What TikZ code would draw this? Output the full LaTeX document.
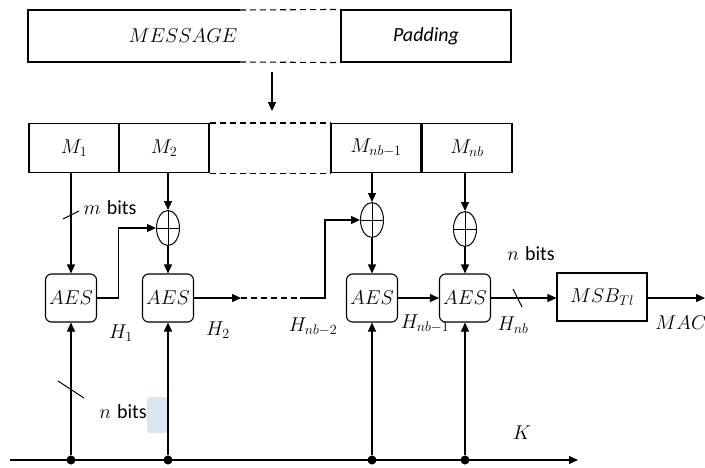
\documentclass[tikz,border=0pt]{standalone}
\usepackage{fontspec}
\usepackage{fix-cm}
\newfontfamily\calibri{Carlito}
\usetikzlibrary{arrows.meta,shapes.geometric}
\definecolor{hl}{HTML}{DCE6F2}
\begin{document}
\begin{tikzpicture}[x=1pt,y=-1pt,
  every node/.style={font=\fontsize{20}{24}\selectfont},
  blk/.style={draw,line width=1.1pt,minimum width=90pt,minimum height=49pt,inner sep=0pt},
  aes/.style={draw,line width=1.1pt,rounded corners=6pt,minimum width=51pt,minimum height=48pt,inner sep=0pt},
  xor/.style={draw,ellipse,line width=1pt,minimum width=23pt,minimum height=35pt,inner sep=0pt,
    path picture={\draw[line width=1pt] (path picture bounding box.north)--(path picture bounding box.south)
      (path picture bounding box.west)--(path picture bounding box.east);}},
  wire/.style={line width=1.1pt},
  arr/.style={wire,-{Triangle[length=9pt,width=8pt]}},
  dashline/.style={line width=1.1pt,dash pattern=on 6pt off 4pt},
  dot/.style={circle,fill,inner sep=0pt,minimum size=9pt},
  slash/.style={line width=1pt}
]
\useasboundingbox (0,0) rectangle (705,467);
% highlight
\fill[hl,rounded corners=3pt] (147,397) rectangle (168,433);
% message
\node (msg) at (183,36) {$MESSAGE$};
\node[draw,line width=1.1pt,minimum width=170pt,minimum height=52pt,inner sep=0pt] (pad) at (426,36) {\raisebox{3pt}{\calibri\itshape Padding}};
\coordinate (mA) at (240,10);
\coordinate (mB) at (240,62);
\coordinate (mTL) at (28,10);
\coordinate (mBL) at (28,62);
\draw[wire] (mA) -- (mTL) -- (mBL) -- (mB);
\draw[dashline] (mA) -- (pad.north west);
\draw[dashline] (mB) -- (pad.south west);
\coordinate (a0) at (272,72);
\coordinate (a1) at (272,111);
\draw[arr] (a0) -- (a1);
% blocks
\node[blk] (m1) at (74,148) {$M_1$};
\node[blk] (m2) at (164,148) {$M_2$};
\node[blk] (m3) at (376,148) {$M_{nb-1}$};
\node[blk] (m4) at (467,148) {$M_{nb}$};
\draw[dashline] (m2.north east) -- (m3.north west);
\draw[dashline] (m2.south east) -- (m3.south west);
% AES
\node[aes] (aes1) at (71,298) {$AES$};
\node[aes] (aes2) at (168,298) {$AES$};
\node[aes] (aes3) at (372,298) {$AES$};
\node[aes] (aes4) at (465,298) {$AES$};
\node[draw,line width=1.1pt,minimum width=90pt,minimum height=48pt,inner sep=0pt] (msb) at (602,297) {$MSB_{Tl}$};
% XOR
\node[xor] (x1) at (168,228) {};
\node[xor] (x3) at (372,220) {};
\node[xor] (x4) at (465,229) {};
% vertical feeds
\draw[arr] (m1.south -| aes1) -- (aes1.north);
\draw[arr] (m2.south -| aes2) -- (x1.north);
\draw[arr] (x1.south) -- (aes2.north);
\draw[arr] (m3.south -| aes3) -- (x3.north);
\draw[arr] (x3.south) -- (aes3.north);
\draw[arr] (m4.south -| aes4) -- (x4.north);
\draw[arr] (x4.south) -- (aes4.north);
\draw[slash] (63,219) -- (79,211);
% chaining
\draw[arr] (aes1.east) -- ++(21,0) |- (x1.west);
\coordinate (c1) at (241,298);
\coordinate (c2) at (300,298);
\draw[arr] (aes2.east) -- (c1);
\draw[dashline] (c1) -- (c2);
\draw[arr] (c2) -- ++(25,0) |- (x3.west);
\draw[arr] (aes3.east) -- (aes4.west);
\draw[arr] (aes4.east) -- (msb.west |- aes4.east);
\draw[slash] (513,289) -- (522,307);
\coordinate (macend) at (705,298);
\draw[arr] (msb.east |- aes4.east) -- (macend);
% key bus
\coordinate (k0) at (10,460);
\coordinate (k1) at (578,460);
\draw[arr] (k0) -- (k1);
\node[dot] (d1) at (aes1 |- k0) {};
\node[dot] (d2) at (aes2 |- k0) {};
\node[dot] (d3) at (aes3 |- k0) {};
\node[dot] (d4) at (aes4 |- k0) {};
\draw[arr] (d1) -- (aes1.south);
\draw[arr] (d2) -- (aes2.south);
\draw[arr] (d3) -- (aes3.south);
\draw[arr] (d4) -- (aes4.south);
\draw[slash] (58,381) -- (84,398);
% labels
\node (lm) at (110,208) {$m$ {\calibri bits}};
\node (ln) at (531,254) {$n$ {\calibri bits}};
\node (lk) at (123,412) {$n$ {\calibri bits}};
\node (h1) at (121,333) {$H_1$};
\node (h2) at (218,330) {$H_2$};
\node (h3) at (313,327) {$H_{nb-2}$};
\node (h4) at (425,324) {$H_{nb-1}$};
\node (h5) at (513,325) {$H_{nb}$};
\node[inner sep=1pt] (mac) at (681,323) {$MAC$};
\node (K) at (522,433) {$K$};
\end{tikzpicture}
\end{document}
